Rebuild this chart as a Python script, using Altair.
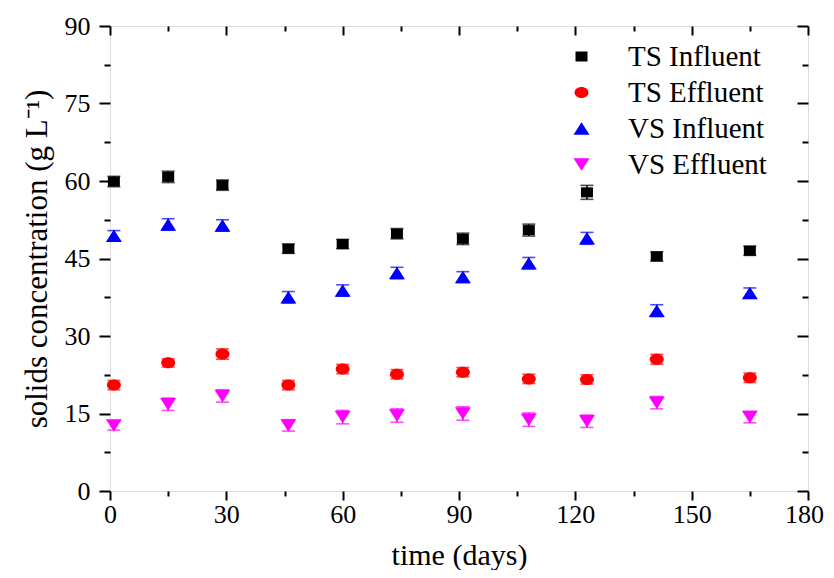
import altair as alt
import pandas as pd

days = [1, 15, 29, 46, 60, 74, 91, 108, 123, 141, 165]
series_names = ["TS Influent", "TS Effluent", "VS Influent", "VS Effluent"]
ts_inf = [59.9, 60.8, 59.2, 46.9, 47.8, 49.8, 48.8, 50.5, 57.8, 45.4, 46.5]
ts_inf_err = [1.0, 1.1, 1.0, 0.9, 0.9, 1.0, 1.1, 1.15, 1.35, 0.9, 0.9]
ts_eff = [20.5, 24.8, 26.5, 20.5, 23.6, 22.6, 23.0, 21.7, 21.6, 25.5, 21.9]
ts_eff_err = [0.9, 0.8, 1.0, 0.9, 0.9, 0.9, 0.9, 0.9, 0.9, 0.95, 0.9]
vs_inf = [49.4, 51.6, 51.4, 37.5, 38.8, 42.2, 41.4, 44.1, 48.9, 34.9, 38.3]
vs_inf_err = [1.0, 1.1, 1.1, 1.1, 1.1, 1.1, 1.05, 1.1, 1.15, 1.15, 1.0]
vs_eff = [12.7, 16.8, 18.4, 12.7, 14.3, 14.6, 15.0, 13.8, 13.5, 17.1, 14.3]
vs_eff_err = [0.9, 1.2, 1.2, 1.1, 1.3, 1.3, 1.3, 1.3, 1.2, 1.2, 1.1]

colors = ["#000000", "#FF0000", "#0000FF", "#FF00FF"]
shapes = [
    "M-1.2,-1H1.2V1H-1.2Z",
    "M-1.4,0A1.4,1.1,0,1,1,1.4,0A1.4,1.1,0,1,1,-1.4,0Z",
    "M0,-1.25L1.6,1.25L-1.6,1.25Z",
    "M0,1.25L1.6,-1.25L-1.6,-1.25Z",
]

x_major = [0, 30, 60, 90, 120, 150, 180]
x_minor = [15, 45, 75, 105, 135, 165]
y_major = [0, 15, 30, 45, 60, 75, 90]
y_minor = [7.5, 22.5, 37.5, 52.5, 67.5, 82.5]

rows = []
for name, vals, errs in zip(series_names,
                            [ts_inf, ts_eff, vs_inf, vs_eff],
                            [ts_inf_err, ts_eff_err, vs_inf_err, vs_eff_err]):
    for d, v, e in zip(days, vals, errs):
        rows.append({"day": d, "value": v, "low": v - e, "high": v + e, "series": name})
df = pd.DataFrame(rows)

FONT = "Liberation Serif"
W, H = 698, 465

xs = alt.Scale(domain=[0, 180], nice=False, zero=False)
ys = alt.Scale(domain=[0, 90], nice=False, zero=False)
cscale = alt.Scale(domain=series_names, range=colors)
sscale = alt.Scale(domain=series_names, range=shapes)

leg = alt.Legend(title=None, orient="none", legendX=457, legendY=16,
                 labelFont=FONT, labelFontSize=29, labelColor="black",
                 labelOffset=32, rowPadding=6, padding=0, symbolSize=100,
                 symbolStrokeWidth=0, symbolOpacity=1, symbolType="circle")

base = alt.Chart(df)

err = base.mark_errorbar(ticks={"size": 13, "thickness": 1.6},
                         rule={"strokeWidth": 1.5}).encode(
    x=alt.X("day:Q", scale=xs, axis=None),
    y=alt.Y("low:Q", scale=ys, axis=None),
    y2="high:Q",
    color=alt.Color("series:N", scale=cscale, legend=leg),
)

common_axis = dict(grid=False, domain=False, tickColor="black", tickWidth=2,
                   labelFont=FONT, labelColor="black", titleFont=FONT,
                   titleColor="black", titleFontWeight="normal", labelFlush=False)

pts = base.mark_point(filled=True, opacity=1, strokeWidth=0, size=100).encode(
    x=alt.X("day:Q", scale=xs,
            axis=alt.Axis(orient="bottom", values=x_major, tickSize=9, labelPadding=1,
                          labelFontSize=26, title="time (days)", titleFontSize=30,
                          labelOffset={"condition": {"test": "datum.value >= 180", "value": -4},
                                       "value": 0},
                          titleX=W / 2, titleY=73, titleBaseline="alphabetic",
                          **common_axis)),
    y=alt.Y("value:Q", scale=ys,
            axis=alt.Axis(orient="left", values=y_major, tickSize=11, labelPadding=9,
                          labelFontSize=26, title="solids concentration (g L⁻¹)",
                          titleFontSize=31, titleX=-73, titleY=H / 2,
                          titleBaseline="middle", **common_axis)),
    color=alt.Color("series:N", scale=cscale, legend=leg),
    shape=alt.Shape("series:N", scale=sscale, legend=leg),
)


def tick_layer(xorient, xvals, xsize, xoff, yorient, yvals, ysize, yoff):
    return base.mark_point(opacity=0).encode(
        x=alt.X("day:Q", scale=xs,
                axis=alt.Axis(orient=xorient, values=xvals, tickSize=xsize, offset=xoff,
                              labels=False, title=None, grid=False, domain=False,
                              tickColor="black", tickWidth=2)),
        y=alt.Y("value:Q", scale=ys,
                axis=alt.Axis(orient=yorient, values=yvals, tickSize=ysize, offset=yoff,
                              labels=False, title=None, grid=False, domain=False,
                              tickColor="black", tickWidth=2)),
    )


minor_out = tick_layer("bottom", x_minor, 5, 0, "left", y_minor, 6, 0)
major_in = tick_layer("top", x_major, 9, -9, "right", y_major, 11, -11)
minor_in = tick_layer("top", x_minor, 5, -5, "right", y_minor, 6, -6)

chart = alt.layer(err, pts, minor_out, major_in, minor_in).resolve_scale(
    x="independent", y="independent"
).properties(
    width=W, height=H,
    padding={"left": 102, "top": 18, "right": 18, "bottom": 79},
    autosize=alt.AutoSizeParams(type="none"),
).configure_view(
    stroke="black", strokeWidth=2
).configure(background="white")

chart.save("out.html", embed_options={"renderer": "svg", "actions": False})
